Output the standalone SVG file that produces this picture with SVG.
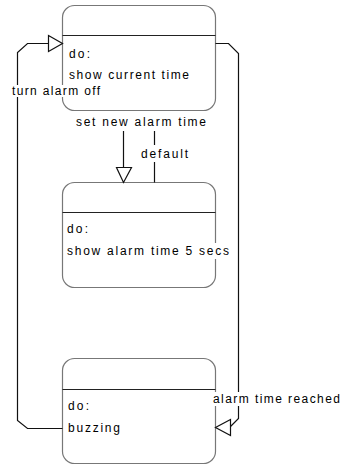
<svg xmlns="http://www.w3.org/2000/svg" width="341" height="465" viewBox="0 0 341 465">
<style>
.box{fill:#fff;stroke:#777;stroke-width:1.2}
.div{stroke:#222;stroke-width:1.2}
.ln{fill:none;stroke:#111;stroke-width:1.2}
.arr{fill:#fff;stroke:#111;stroke-width:1.2}
.bg{fill:#fff}
text{font-family:"Liberation Sans",Arial,sans-serif;font-size:12px;fill:#000}
</style>
<rect width="341" height="465" fill="#fff"/>
<g id="node-current">
<rect class="box" x="62.5" y="5.5" width="153" height="105" rx="12"/>
<line class="div" x1="62.5" y1="35.5" x2="215.5" y2="35.5"/>
<text x="69" y="58" textLength="21" lengthAdjust="spacing">do:</text>
<text x="69" y="79" textLength="120" lengthAdjust="spacing">show current time</text>
</g>
<g id="node-alarm">
<rect class="box" x="62.5" y="182.5" width="153" height="105" rx="12"/>
<line class="div" x1="62.5" y1="212.5" x2="215.5" y2="212.5"/>
<text x="67" y="233" textLength="21" lengthAdjust="spacing">do:</text>
<rect class="bg" x="66" y="243" width="165" height="16"/>
<text x="67" y="255" textLength="162" lengthAdjust="spacing">show alarm time 5 secs</text>
</g>
<g id="node-buzzing">
<rect class="box" x="62.5" y="358.5" width="153" height="105" rx="12"/>
<line class="div" x1="62.5" y1="389.5" x2="215.5" y2="389.5"/>
<text x="68" y="410" textLength="21" lengthAdjust="spacing">do:</text>
<text x="68" y="432" textLength="52" lengthAdjust="spacing">buzzing</text>
</g>
<g id="connectors">
<path class="ln" d="M62.5,428.5 H27.5 L17.5,420.5 V52.5 L27.5,43.5 H48.5"/>
<polygon class="arr" points="48.5,35.5 62.5,43.5 48.5,51.5"/>
<path class="ln" d="M215.5,43.5 H228.5 L238.5,53.5 V418.5 L232.5,424.5 L230.5,426.5"/>
<polygon class="arr" points="230.5,419.5 215.5,427.5 230.5,435.5"/>
<line class="ln" x1="123.5" y1="131" x2="123.5" y2="167.5"/>
<polygon class="arr" points="116.5,167.5 131.5,167.5 123.5,182.5"/>
<line class="ln" x1="154.5" y1="131" x2="154.5" y2="182.5"/>
</g>
<g id="labels">
<rect class="bg" x="9" y="85" width="94" height="12"/>
<text x="12" y="95" textLength="88" lengthAdjust="spacing">turn alarm off</text>
<rect class="bg" x="74" y="116" width="135" height="13"/>
<text x="76" y="126" textLength="130" lengthAdjust="spacing">set new alarm time</text>
<rect class="bg" x="139" y="145" width="51" height="17"/>
<text x="141" y="158" textLength="47" lengthAdjust="spacing">default</text>
<rect class="bg" x="212" y="392" width="129" height="14"/>
<text x="213" y="403" textLength="127" lengthAdjust="spacing">alarm time reached</text>
</g>
</svg>
